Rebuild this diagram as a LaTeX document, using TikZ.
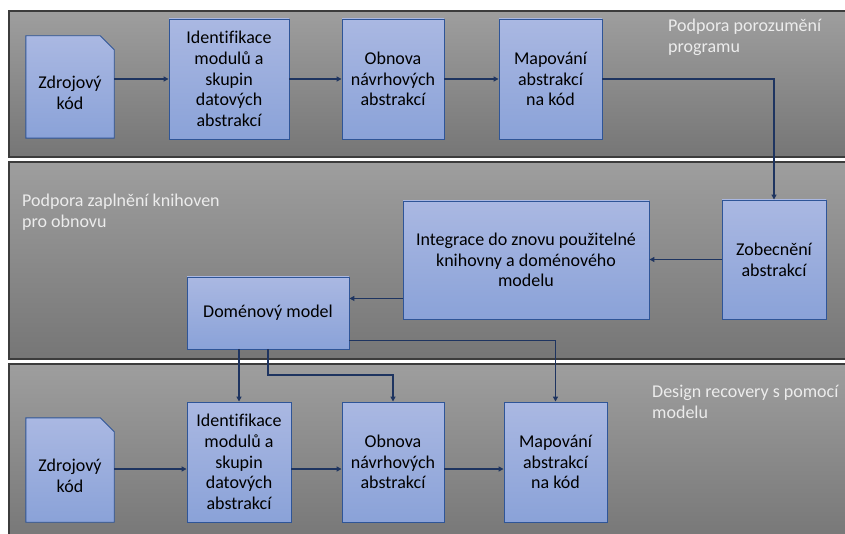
\documentclass[tikz,border=0pt]{standalone}
\usepackage{fontspec}
\setmainfont{Carlito}[Ligatures=NoCommon]
\usetikzlibrary{arrows.meta,calc}
\pgfdeclarelayer{panels}
\pgfdeclarelayer{shapes}
\pgfsetlayers{panels,shapes,main}

\definecolor{boxtop}{RGB}{170,184,226}
\definecolor{boxbot}{RGB}{138,162,216}
\definecolor{boxline}{RGB}{47,85,151}
\definecolor{wire}{RGB}{30,52,96}
\definecolor{paneltop}{RGB}{158,158,158}
\definecolor{panelbot}{RGB}{118,118,118}
\definecolor{panelline}{RGB}{60,60,60}
\definecolor{paneltext}{RGB}{236,236,236}

\tikzset{
  every node/.style={font=\fontsize{18}{20.7}\selectfont, align=center, inner sep=0pt},
  procbox/.style={rectangle, draw=boxline, line width=0.9pt, top color=boxtop, bottom color=boxbot},
  docframe/.style={rectangle, draw=none},
  docshape/.style={draw=boxline, line width=0.9pt, top color=boxtop, bottom color=boxbot},
  panel/.style={draw=panelline, line width=1.2pt, top color=paneltop, bottom color=panelbot},
  paneltitle/.style={anchor=north west, align=left, text=paneltext},
  flow/.style={draw=wire, line width=1.5pt, -{Triangle[length=5pt,width=5pt]}},
}

\begin{document}
\begin{tikzpicture}[x=1pt,y=-1pt]
\useasboundingbox (0,0) rectangle (845,534);
\clip (0,0) rectangle (845,534);

% swim-lane panels
\begin{pgfonlayer}{panels}
  \fill[white] (0,0) rectangle (845,534);
  \path[panel] (9,11) rectangle (860,157);
  \path[panel] (9,162) rectangle (860,359);
  \path[panel] (9,364) rectangle (860,545);
\end{pgfonlayer}

\node[paneltitle] (t1) at (668,19) {Podpora porozumění\\programu};
\node[paneltitle] (t2) at (22,194) {Podpora zaplnění knihoven\\pro obnovu};
\node[paneltitle] (t3) at (652,385) {Design recovery s pomocí\\modelu};

% top lane
\node[docframe, minimum width=88pt, minimum height=102pt] (src1) at (70,87) {};
\node (src1t) at (70,93) {Zdrojový\\kód};
\node[procbox, minimum width=120pt, minimum height=120pt] (idn1) at (229,79) {Identifikace\\modulů a\\skupin\\datových\\abstrakcí};
\node[procbox, minimum width=102pt, minimum height=120pt] (obn1) at (393,79) {Obnova\\návrhových\\abstrakcí};
\node[procbox, minimum width=103pt, minimum height=120pt] (map1) at (550.5,79) {Mapování\\abstrakcí\\na kód};

% middle lane
\node[procbox, minimum width=246pt, minimum height=118pt] (int) at (526,260) {Integrace do znovu použitelné\\knihovny a doménového\\modelu};
\node[procbox, minimum width=104pt, minimum height=119pt] (zob) at (774,259.5) {Zobecnění\\abstrakcí};
\node[procbox, minimum width=162pt, minimum height=72pt] (dom) at (268,313) {Doménový model};

% bottom lane
\node[docframe, minimum width=88pt, minimum height=104pt] (src3) at (70,470) {};
\node (src3t) at (70,476) {Zdrojový\\kód};
\node[procbox, minimum width=104pt, minimum height=120pt] (idn3) at (239,462) {Identifikace\\modulů a\\skupin\\datových\\abstrakcí};
\node[procbox, minimum width=102pt, minimum height=120pt] (obn3) at (393,462) {Obnova\\návrhových\\abstrakcí};
\node[procbox, minimum width=103pt, minimum height=120pt] (map3) at (555.5,462) {Mapování\\abstrakcí\\na kód};

% document outlines with the folded corner
\begin{pgfonlayer}{shapes}
  \foreach \d in {src1,src3}{
    \path[docshape] (\d.south west) -- (\d.north west) -- ([xshift=-14pt]\d.north east)
      -- ([yshift=-14pt]\d.north east) -- (\d.south east) -- cycle;
  }
\end{pgfonlayer}

% connectors, top lane
\draw[flow] (src1.east |- idn1.west) -- (idn1.west);
\draw[flow] (idn1.east) -- (obn1.west);
\draw[flow] (obn1.east) -- (map1.west);
\draw[flow] (map1.east) -| (zob.north);

% connectors, middle lane
\draw[flow] (zob.west) -- (int.east |- zob.west);
\draw[flow] ([yshift=21pt]int.south west) -- ([yshift=21pt]int.south west -| dom.east);

% connectors from the domain model
\draw[flow] (dom.south -| idn3.north) -- (idn3.north);
\draw[flow] (dom.south) -- (dom.south |- 0,375) -| (obn3.north);
\draw[flow] ([yshift=9pt]dom.south east) -| (map3.north);

% connectors, bottom lane
\draw[flow] ([yshift=-7pt]src3.east |- idn3.east) -- ([yshift=-7pt]idn3.west);
\draw[flow] ([yshift=-7pt]idn3.east) -- ([yshift=-7pt]obn3.west);
\draw[flow] ([yshift=-7pt]obn3.east) -- ([yshift=-7pt]map3.west);
\end{tikzpicture}
\end{document}
